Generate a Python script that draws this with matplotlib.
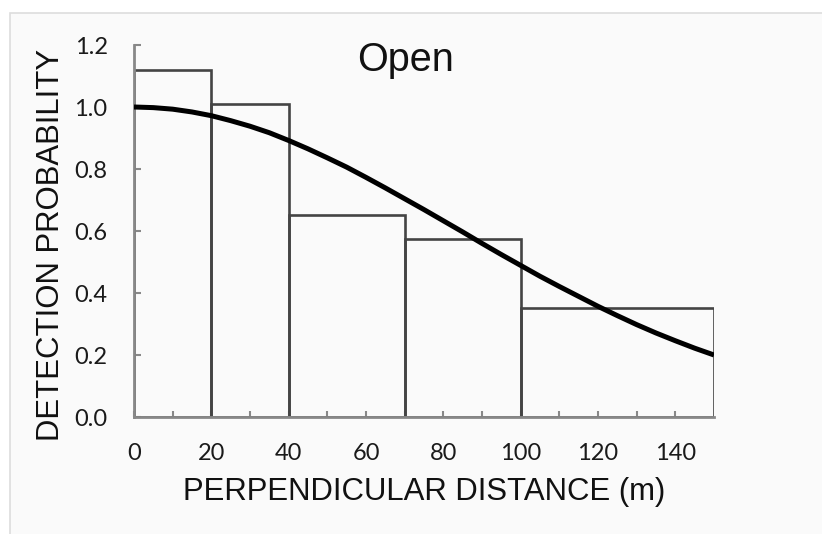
import matplotlib
matplotlib.use("Agg")
import matplotlib.pyplot as plt
from matplotlib.patches import Rectangle

# histogram bins (m) and scaled detection heights
BIN_EDGES = [0, 20, 40, 70, 100, 150]
BIN_HEIGHTS = [1.12, 1.01, 0.652, 0.575, 0.352]

# fitted detection function
CURVE_X = [0, 5, 10, 15, 20, 25, 30, 35, 40, 45, 50, 55, 60, 65, 70, 75,
           80, 85, 90, 95, 100, 105, 110, 115, 120, 125, 130, 135, 140, 145, 150]
CURVE_Y = [1.00, 0.998, 0.993, 0.984, 0.972, 0.956, 0.938, 0.917, 0.892,
           0.865, 0.836, 0.806, 0.773, 0.739, 0.704, 0.669, 0.633, 0.597,
           0.560, 0.524, 0.489, 0.454, 0.421, 0.389, 0.357, 0.327, 0.298,
           0.271, 0.246, 0.222, 0.200]

X_TICKS = [0, 20, 40, 60, 80, 100, 120, 140]
Y_TICKS = [0.0, 0.2, 0.4, 0.6, 0.8, 1.0, 1.2]

fig = plt.figure(figsize=(8.22, 5.34), dpi=100)
fig.patch.set_facecolor("white")
# light panel with thin border behind the chart
fig.patches.append(Rectangle((10 / 822, -0.05), 1.1, 1.05 - 13 / 534,
                             transform=fig.transFigure, facecolor="#fafafa",
                             edgecolor="#dddddd", linewidth=1.2, zorder=-10))

ax = fig.add_axes([134 / 822, 117 / 534, 580 / 822, 372 / 534])
ax.set_facecolor("none")
ax.set_zorder(5)

widths = [b - a for a, b in zip(BIN_EDGES[:-1], BIN_EDGES[1:])]
ax.bar(BIN_EDGES[:-1], BIN_HEIGHTS, width=widths, align="edge",
       facecolor="none", edgecolor="#444444", linewidth=1.9, zorder=2)
ax.plot(CURVE_X, CURVE_Y, color="black", linewidth=3.6,
        solid_capstyle="butt", zorder=3)

ax.set_xlim(0, 150)
ax.set_ylim(0, 1.2)
ax.set_xticks(X_TICKS)
ax.set_xticks(range(10, 150, 20), minor=True)
ax.set_yticks(Y_TICKS)
ax.set_xticklabels([str(t) for t in X_TICKS], fontfamily="Lato", fontsize=17,
                   color="#1a1a1a")
ax.set_yticklabels(["%.1f" % t for t in Y_TICKS], fontfamily="Lato",
                   fontsize=17, color="#1a1a1a")
ax.tick_params(axis="both", which="both", direction="in", color="#888888",
               width=1.5)
ax.tick_params(axis="x", which="both", length=4, pad=19)
ax.tick_params(axis="y", length=5, pad=19)

for side in ["top", "right"]:
    ax.spines[side].set_visible(False)
for side in ["left", "bottom"]:
    ax.spines[side].set_color("#888888")
    ax.spines[side].set_linewidth(2)

ax.set_xlabel("PERPENDICULAR DISTANCE (m)", fontfamily="Liberation Sans",
              fontsize=22.4, labelpad=9, color="#111111")
ax.set_ylabel("DETECTION PROBABILITY", fontfamily="Liberation Sans",
              fontsize=22.4, color="#111111")
ax.yaxis.set_label_coords(-0.117, 0.462)
ax.text(0.469, 1.01, "Open", transform=ax.transAxes, ha="center", va="top",
        fontfamily="Liberation Sans", fontsize=28.5, color="#111111")

fig.savefig("out.png", dpi=100)
